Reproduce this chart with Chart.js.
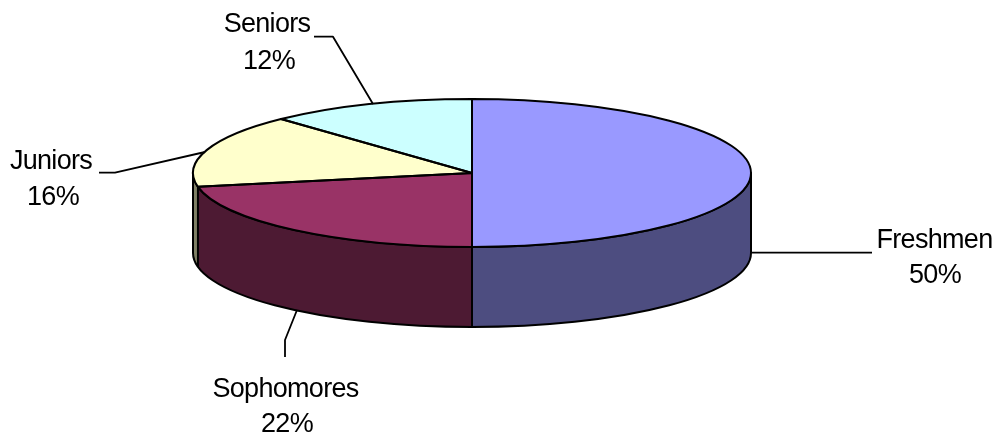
<!DOCTYPE html>
<html>
<head>
<meta charset="utf-8">
<style>html,body{margin:0;padding:0;background:#fff}canvas{display:block}</style>
<script src="https://cdn.jsdelivr.net/npm/chart.js@4"></script>
</head>
<body>
<canvas id="c" width="997" height="436"></canvas>
<script>
const categories = ['Freshmen', 'Sophomores', 'Juniors', 'Seniors'];
const shares = [50, 22, 16, 12];
const topColors = ['#9999FF', '#993366', '#FFFFCC', '#CCFFFF'];
const sideColors = ['#4D4D80', '#4D1A33', '#808066', '#668080'];

const RX = 279, RY = 74, DEPTH = 80;
const FONT = '27px "Liberation Sans", Arial, sans-serif';
const labelSpots = [
  {x: 934.5, y1: 248, x2: 935, y2: 283},
  {x: 285.5, y1: 397, x2: 287, y2: 432},
  {x: 51, y1: 169, x2: 53, y2: 205},
  {x: 267, y1: 32, x2: 269, y2: 69}
];
const leaders = [
  [[752, 252.7], [872, 252.7]],
  [[297, 310], [285, 340], [285, 357]],
  [[99, 172.7], [115, 172.7], [205, 152]],
  [[314, 36.7], [333, 36.7], [373, 104]]
];

function wedge(ctx, a, ry) {
  ctx.beginPath();
  ctx.moveTo(a.x, a.y);
  ctx.ellipse(a.x, a.y, a.outerRadius, ry, 0, a.startAngle, a.endAngle);
  ctx.closePath();
}
function wall(ctx, a, from, to) {
  ctx.beginPath();
  ctx.ellipse(a.x, a.y, a.outerRadius, RY, 0, from, to);
  ctx.ellipse(a.x, a.y + DEPTH, a.outerRadius, RY, 0, to, from, true);
  ctx.closePath();
}

const pie3d = {
  id: 'pie3d',
  beforeDatasetsDraw(chart) {
    const ctx = chart.ctx, arcs = chart.getDatasetMeta(0).data;
    ctx.save();
    arcs.forEach((a, i) => {
      const from = Math.max(a.startAngle, 0), to = Math.min(a.endAngle, Math.PI);
      if (to > from) {
        wall(ctx, a, from, to);
        ctx.fillStyle = sideColors[i];
        ctx.fill();
      }
    });
    ctx.strokeStyle = '#000';
    ctx.lineWidth = 2;
    ctx.lineJoin = 'round';
    arcs.forEach(a => {
      if (Math.sin(a.startAngle) > 0) {
        const x = a.x + a.outerRadius * Math.cos(a.startAngle);
        const y = a.y + RY * Math.sin(a.startAngle);
        ctx.beginPath();
        ctx.moveTo(x, y);
        ctx.lineTo(x, y + DEPTH);
        ctx.stroke();
      }
    });
    wall(ctx, arcs[0], 0, Math.PI);
    ctx.stroke();
    ctx.restore();
  },
  beforeDatasetDraw(chart) {
    const ctx = chart.ctx, a = chart.getDatasetMeta(0).data[0];
    ctx.save();
    ctx.translate(a.x, a.y);
    ctx.scale(1, RY / a.outerRadius);
    ctx.translate(-a.x, -a.y);
  },
  afterDatasetDraw(chart) {
    chart.ctx.restore();
  },
  afterDatasetsDraw(chart) {
    const ctx = chart.ctx, arcs = chart.getDatasetMeta(0).data;
    ctx.save();
    ctx.strokeStyle = '#000';
    ctx.lineJoin = 'round';
    ctx.lineWidth = 2;
    arcs.forEach(a => { wedge(ctx, a, RY); ctx.stroke(); });
    ctx.lineWidth = 1.8;
    leaders.forEach(pts => {
      ctx.beginPath();
      pts.forEach((p, i) => i ? ctx.lineTo(p[0], p[1]) : ctx.moveTo(p[0], p[1]));
      ctx.stroke();
    });
    ctx.fillStyle = '#000';
    ctx.font = FONT;
    ctx.textAlign = 'center';
    ctx.textBaseline = 'alphabetic';
    ctx.letterSpacing = '-0.7px';
    categories.forEach((name, i) => {
      const s = labelSpots[i];
      ctx.fillText(name, s.x, s.y1);
      ctx.fillText(shares[i] + '%', s.x2, s.y2);
    });
    ctx.restore();
  }
};

new Chart(document.getElementById('c'), {
  type: 'pie',
  data: {
    labels: categories,
    datasets: [{ data: shares, backgroundColor: topColors, borderWidth: 0, radius: RX }]
  },
  options: {
    responsive: false,
    animation: false,
    layout: { padding: { left: 0, right: 53, top: 0, bottom: 90 } },
    plugins: { legend: { display: false }, tooltip: { enabled: false } }
  },
  plugins: [pie3d]
});
</script>
</body>
</html>
